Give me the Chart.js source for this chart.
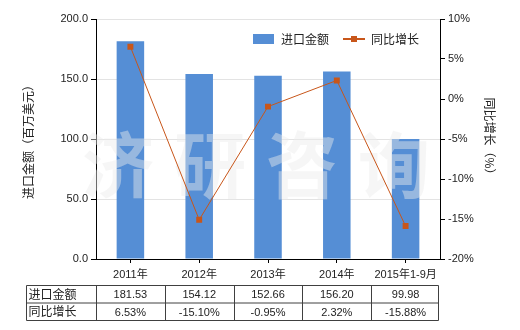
<!DOCTYPE html>
<html>
<head>
<meta charset="utf-8">
<script src="https://cdn.jsdelivr.net/npm/chart.js@4"></script>
<style>
  body { margin: 0; background: #fff; }
  #wrap { width: 520px; height: 330px; }
</style>
</head>
<body>
<div id="wrap"><canvas id="myChart" width="520" height="330"></canvas></div>
<script>
const categories = ['2011年', '2012年', '2013年', '2014年', '2015年1-9月']
const importValues = [181.53, 154.12, 152.66, 156.20, 99.98]
const growthValues = [6.53, -15.10, -0.95, 2.32, -15.88]
const importLabels = ['181.53', '154.12', '152.66', '156.20', '99.98']
const growthLabels = ['6.53%', '-15.10%', '-0.95%', '2.32%', '-15.88%']

const FONT = '"Liberation Sans", "Noto Sans CJK SC", sans-serif'
const CJK = '"Noto Sans CJK SC", sans-serif'
const barColor = '#558ed5'
const lineColor = '#c8561a'

// legend icons
const barIcon = document.createElement('canvas')
barIcon.width = 21; barIcon.height = 10
let g = barIcon.getContext('2d')
g.fillStyle = barColor
g.fillRect(0, 0, 21, 10)

const lineIcon = document.createElement('canvas')
lineIcon.width = 22; lineIcon.height = 10
g = lineIcon.getContext('2d')
g.fillStyle = lineColor
g.fillRect(0, 4, 22, 2)
g.fillRect(8, 2, 6, 6)
const icons = [barIcon, lineIcon]

// keep the in-plot legend on one row, right side of the plot
const legendRow = {
    id: 'legendRow',
    beforeLayout(chart) {
        if (chart.legend) chart.legend.isHorizontal = () => true
    },
    afterLayout(chart) {
        const l = chart.legend
        if (!l) return
        l.left = chart.chartArea.left
        l.right = chart.chartArea.right - 7
    }
}

// faint watermark between the bars and the line
const watermark = {
    id: 'watermark',
    afterDatasetDraw(chart, args) {
        if (args.meta.type !== 'bar') return
        const c = chart.ctx
        const area = chart.chartArea
        const cx = area.left + 160
        c.save()
        c.font = 'bold 72px ' + CJK
        c.fillStyle = 'rgba(236,236,236,0.45)'
        c.textAlign = 'center'
        c.textBaseline = 'middle'
        '济研咨询'.split('').forEach((ch, i) => {
            c.fillText(ch, cx + (i - 1.5) * 92, 165)
        })
        c.restore()
    }
}

// data table under the x axis
const dataTable = {
    id: 'dataTable',
    afterDraw(chart) {
        const c = chart.ctx
        const x = chart.scales.x
        const half = (x.getPixelForValue(1) - x.getPixelForValue(0)) / 2
        const rows = [['进口金额', importLabels], ['同比增长', growthLabels]]
        const top = 285.5, rowH = 17.5
        const left = 26.5
        const right = x.getPixelForValue(categories.length - 1) + half - 1.5
        c.save()
        c.strokeStyle = '#404040'
        c.lineWidth = 1
        c.beginPath()
        for (let r = 0; r <= rows.length; r++) {
            c.moveTo(left, top + r * rowH)
            c.lineTo(right, top + r * rowH)
        }
        c.moveTo(left, top)
        c.lineTo(left, top + rows.length * rowH)
        for (let i = 0; i < categories.length; i++) {
            const xx = Math.round(x.getPixelForValue(i) - half) + 0.5
            c.moveTo(xx, top)
            c.lineTo(xx, top + rows.length * rowH)
        }
        c.moveTo(right, top)
        c.lineTo(right, top + rows.length * rowH)
        c.stroke()

        c.fillStyle = '#222'
        c.textBaseline = 'middle'
        rows.forEach(([name, vals], r) => {
            const y = top + r * rowH + rowH / 2 + 1
            c.textAlign = 'left'
            c.font = '12px ' + CJK
            c.fillText(name, left + 2, y - 1)
            c.textAlign = 'center'
            c.font = '11px ' + FONT
            vals.forEach((v, i) => c.fillText(v, x.getPixelForValue(i), y))
        })
        c.restore()
    }
}

const chart = new Chart(document.getElementById('myChart'), {
    type: 'bar',
    data: {
        labels: categories,
        datasets: [{
            label: '进口金额',
            data: importValues,
            backgroundColor: barColor,
            barPercentage: 0.4,
            categoryPercentage: 1,
            yAxisID: 'y',
            order: 2
        }, {
            type: 'line',
            label: '同比增长',
            data: growthValues,
            borderColor: lineColor,
            borderWidth: 1,
            backgroundColor: lineColor,
            pointStyle: 'rect',
            pointRadius: 4.2,
            pointBorderWidth: 0,
            tension: 0,
            yAxisID: 'y1',
            order: 1
        }]
    },
    options: {
        responsive: false,
        animation: false,
        layout: { padding: { top: 19, left: 0, right: 0, bottom: 0 } },
        plugins: {
            tooltip: { enabled: false },
            legend: {
                position: 'chartArea',
                align: 'end',
                labels: {
                    usePointStyle: true,
                    pointStyleWidth: 22,
                    boxHeight: 10,
                    padding: 14,
                    color: '#222',
                    font: { size: 12, family: CJK },
                    sort: (a, b) => a.datasetIndex - b.datasetIndex,
                    generateLabels(chart) {
                        const items = Chart.defaults.plugins.legend.labels.generateLabels(chart)
                        items.forEach(it => { it.pointStyle = icons[it.datasetIndex] })
                        return items
                    }
                }
            }
        },
        scales: {
            x: {
                offset: true,
                grid: { offset: false, drawOnChartArea: false, color: '#000', tickLength: 4 },
                border: { color: '#000' },
                ticks: { color: '#222', padding: 5, font: { size: 11, family: FONT }, maxRotation: 0 },
                afterFit(scale) { scale.height = 71 }
            },
            y: {
                position: 'left',
                min: 0,
                max: 200,
                ticks: { stepSize: 50, color: '#222', padding: 3, font: { size: 11, family: FONT },
                    callback: v => v.toFixed(1) },
                grid: { color: '#e3e3e3', tickColor: '#000', tickLength: 5 },
                border: { color: '#000' },
                title: { display: true, text: '进口金额（百万美元）', color: '#222',
                    font: { size: 12, family: CJK },
                    padding: { top: 21, bottom: 0 } },
                afterFit(scale) { scale.width = 96 }
            },
            y1: {
                position: 'right',
                min: -20,
                max: 10,
                ticks: { stepSize: 5, color: '#222', padding: 3, font: { size: 11, family: FONT },
                    callback: v => v + '%' },
                grid: { drawOnChartArea: false, color: '#000', tickLength: 5 },
                border: { color: '#000' },
                title: { display: true, text: '同比增长（%）', color: '#222',
                    font: { size: 12, family: CJK },
                    padding: { top: 23, bottom: 0 } },
                afterFit(scale) { scale.width = 80 }
            }
        }
    },
    plugins: [legendRow, watermark, dataTable]
})
</script>
</body>
</html>
